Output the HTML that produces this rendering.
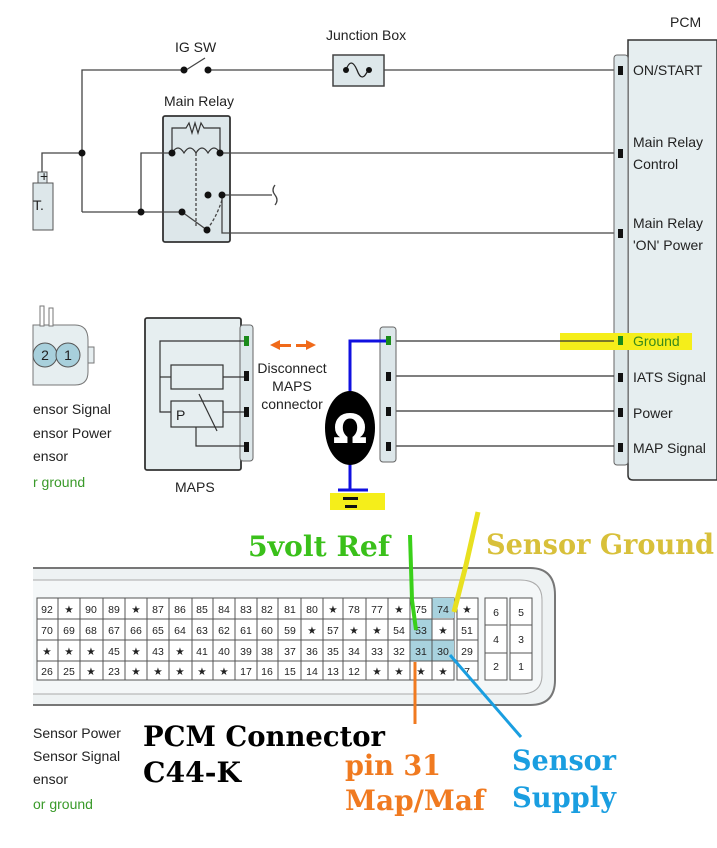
<!DOCTYPE html>
<html><head><meta charset="utf-8"><style>
body{margin:0;background:#fff}
svg{display:block}
.t{font-family:"Liberation Sans",sans-serif;font-size:14px;fill:#222}
.n{font-family:"Liberation Sans",sans-serif;font-size:10.5px;fill:#222;text-anchor:middle}
.b{font-family:"DejaVu Serif","Liberation Serif",serif;font-weight:bold;font-size:28px}
</style></head><body>
<svg width="717" height="848" viewBox="0 0 717 848" xmlns="http://www.w3.org/2000/svg">
<!-- relay box first -->
<rect x="163" y="116" width="67" height="126" rx="2" fill="#dde7ea" stroke="#333" stroke-width="1.8"/>
<g stroke="#444" stroke-width="1.3" fill="none">
<polyline points="82,212 82,70 184,70"/>
<line x1="208" y1="70" x2="614" y2="70"/>
<line x1="186" y1="70" x2="205" y2="58"/>
<polyline points="42,172 42,153 82,153"/>
<line x1="82" y1="212" x2="182" y2="212"/>
<polyline points="141,212 141,153 172,153"/>
<line x1="220" y1="153" x2="614" y2="153"/>
<line x1="182" y1="212" x2="207" y2="230"/>
<line x1="222" y1="195" x2="272" y2="195"/>
<polyline points="222,195 222,233 614,233"/>
<line x1="196" y1="153" x2="196" y2="228" stroke-dasharray="3,2"/>
<path d="M222,200 Q216,218 208,228" stroke-dasharray="3,2"/>
<path d="M275,185 q-4,5 0,10 q4,5 0,10"/>
</g>
<!-- battery -->
<rect x="33" y="183" width="20" height="47" fill="#dde7ea" stroke="#555"/>
<rect x="38" y="172" width="9" height="11" fill="#dde7ea" stroke="#555"/>
<text x="40" y="181" class="t" font-size="10">+</text>
<text x="33" y="210" class="t" font-size="15">T.</text>
<!-- IG SW -->
<text x="175" y="52" class="t">IG SW</text>
<circle cx="184" cy="70" r="3.5" fill="#111"/><circle cx="208" cy="70" r="3.5" fill="#111"/>
<!-- junction box -->
<text x="326" y="40" class="t">Junction Box</text>
<rect x="333" y="55" width="51" height="31" fill="#dde7ea" stroke="#444" stroke-width="1.5"/>
<path d="M346,70 q5,-14 11,0 q5,14 11,0" stroke="#222" fill="none" stroke-width="1.3"/>
<circle cx="346" cy="70" r="3" fill="#111"/><circle cx="369" cy="70" r="3" fill="#111"/>
<!-- main relay -->
<text x="164" y="106" class="t">Main Relay</text>
<g stroke="#333" fill="none" stroke-width="1.2">
<polyline points="172,153 172,128 186,128 189,123 192,133 195,123 198,133 201,123 204,128 220,128 220,153"/>
<path d="M172,153 q6,-10 12,0 q6,-10 12,0 q6,-10 12,0 q6,-10 12,0"/>
</g>
<g fill="#111">
<circle cx="82" cy="153" r="3.5"/><circle cx="141" cy="212" r="3.5"/>
<circle cx="172" cy="153" r="3.5"/><circle cx="220" cy="153" r="3.5"/>
<circle cx="208" cy="195" r="3.5"/><circle cx="222" cy="195" r="3.5"/>
<circle cx="182" cy="212" r="3.5"/><circle cx="207" cy="230" r="3.5"/>
</g>
<!-- PCM -->
<text x="670" y="27" class="t">PCM</text>
<path d="M628,40 L717,40 L717,480 L633,480 Q628,480 628,475 Z" fill="#e6eef0" stroke="#333" stroke-width="1.5"/>
<rect x="614" y="55" width="14" height="410" rx="3" fill="#dde7ea" stroke="#666"/>
<g fill="#111">
<rect x="618" y="66" width="5" height="9"/><rect x="618" y="149" width="5" height="9"/><rect x="618" y="229" width="5" height="9"/>
<rect x="618" y="373" width="5" height="9"/><rect x="618" y="408" width="5" height="9"/><rect x="618" y="443" width="5" height="9"/>
</g>
<rect x="560" y="333" width="132" height="17" fill="#f5ee1a"/>
<rect x="618" y="336" width="5" height="9" fill="#1a8a1a"/>
<text x="633" y="75" class="t">ON/START</text>
<text x="633" y="147" class="t">Main Relay</text>
<text x="633" y="169" class="t">Control</text>
<text x="633" y="228" class="t">Main Relay</text>
<text x="633" y="250" class="t">'ON' Power</text>
<text x="633" y="346" class="t" style="fill:#3a8a1a">Ground</text>
<text x="633" y="382" class="t">IATS Signal</text>
<text x="633" y="418" class="t">Power</text>
<text x="633" y="453" class="t">MAP Signal</text>
<g stroke="#333" stroke-width="1.2">
<line x1="396" y1="341" x2="614" y2="341"/><line x1="396" y1="376" x2="614" y2="376"/>
<line x1="396" y1="411" x2="614" y2="411"/><line x1="396" y1="446" x2="614" y2="446"/>
</g>
<rect x="380" y="327" width="16" height="135" rx="3" fill="#dde7ea" stroke="#666"/>
<rect x="386" y="336" width="5" height="9" fill="#1a8a1a"/>
<g fill="#111"><rect x="386" y="372" width="5" height="9"/><rect x="386" y="407" width="5" height="9"/><rect x="386" y="442" width="5" height="9"/></g>
<!-- ohm meter -->
<polyline points="350,392 350,341 386,341" stroke="#1010e0" stroke-width="3" fill="none"/>
<line x1="350" y1="462" x2="350" y2="490" stroke="#1010e0" stroke-width="3"/>
<line x1="338" y1="490" x2="368" y2="490" stroke="#1010e0" stroke-width="3"/>
<ellipse cx="350" cy="428" rx="25" ry="37" fill="#000"/>
<text x="350" y="443" text-anchor="middle" font-family="DejaVu Sans,sans-serif" font-size="40" font-weight="bold" fill="#fff">Ω</text>
<rect x="330" y="493" width="55" height="17" fill="#f5ee1a"/>
<rect x="343" y="497" width="15" height="3" fill="#111"/><rect x="345" y="505" width="12" height="3" fill="#111"/>
<!-- MAPS -->
<rect x="145" y="318" width="96" height="152" rx="2" fill="#e6eef0" stroke="#333" stroke-width="1.8"/>
<rect x="240" y="325" width="13" height="136" rx="3" fill="#dde7ea" stroke="#666"/>
<rect x="244" y="336" width="5" height="10" fill="#1a8a1a"/>
<g fill="#111"><rect x="244" y="371" width="5" height="10"/><rect x="244" y="407" width="5" height="10"/><rect x="244" y="442" width="5" height="10"/></g>
<g stroke="#333" fill="none" stroke-width="1.2">
<polyline points="244,341 160,341 160,412 171,412"/>
<line x1="160" y1="377" x2="171" y2="377"/>
<rect x="171" y="365" width="52" height="24"/>
<rect x="171" y="401" width="52" height="26"/>
<line x1="223" y1="377" x2="244" y2="377"/><line x1="223" y1="412" x2="244" y2="412"/>
<polyline points="196,427 196,446 244,446"/>
<line x1="199" y1="394" x2="217" y2="431"/>
</g>
<text x="176" y="420" class="t" font-size="15">P</text>
<text x="175" y="492" class="t">MAPS</text>
<g fill="#f06a1a"><polygon points="270,345 280,340 280,350"/><rect x="279" y="344" width="12" height="3"/>
<rect x="296" y="344" width="12" height="3"/><polygon points="316,345 306,340 306,350"/></g>
<text x="292" y="373" class="t" text-anchor="middle">Disconnect</text>
<text x="292" y="391" class="t" text-anchor="middle">MAPS</text>
<text x="292" y="409" class="t" text-anchor="middle">connector</text>
<!-- left partial connector -->
<path d="M33,325 L75,325 Q88,325 88,340 L88,372 Q88,385 75,385 L33,385 Z" fill="#e6eef0" stroke="#777"/>
<rect x="88" y="347" width="6" height="16" fill="#e6eef0" stroke="#777"/>
<rect x="40" y="306" width="4" height="20" fill="#fff" stroke="#777"/><rect x="49" y="308" width="4" height="18" fill="#fff" stroke="#777"/>
<circle cx="45" cy="355" r="12" fill="#a8d0dc" stroke="#555"/><circle cx="68" cy="355" r="12" fill="#a8d0dc" stroke="#555"/>
<text x="45" y="360" class="t" text-anchor="middle">2</text><text x="68" y="360" class="t" text-anchor="middle">1</text>
<text x="33" y="414" class="t">ensor Signal</text>
<text x="33" y="438" class="t">ensor Power</text>
<text x="33" y="461" class="t">ensor</text>
<text x="33" y="487" class="t" style="fill:#3a9a2a">r ground</text>
<!-- bottom connector -->
<path d="M33,568 L530,568 Q555,568 555,595 L555,680 Q555,705 530,705 L33,705" fill="#eef2f3" stroke="#777" stroke-width="2"/>
<path d="M33,580 L520,580 Q542,580 542,600 L542,675 Q542,694 520,694 L33,694" fill="#f4f7f8" stroke="#aaa"/>
<rect x="37" y="598" width="417" height="82" fill="#fff" stroke="#555"/>
<rect x="432" y="598" width="22" height="20" fill="#a8d2de"/>
<rect x="410" y="619" width="22" height="21" fill="#a8d2de"/>
<rect x="410" y="640" width="44" height="21" fill="#a8d2de"/>
<g stroke="#555" stroke-width="1">
<line x1="37" y1="619" x2="454" y2="619"/><line x1="37" y1="640" x2="454" y2="640"/><line x1="37" y1="661" x2="454" y2="661"/>
<line x1="58" y1="598" x2="58" y2="680"/><line x1="80" y1="598" x2="80" y2="680"/><line x1="103" y1="598" x2="103" y2="680"/>
<line x1="125" y1="598" x2="125" y2="680"/><line x1="147" y1="598" x2="147" y2="680"/><line x1="169" y1="598" x2="169" y2="680"/>
<line x1="192" y1="598" x2="192" y2="680"/><line x1="213" y1="598" x2="213" y2="680"/><line x1="235" y1="598" x2="235" y2="680"/>
<line x1="257" y1="598" x2="257" y2="680"/><line x1="278" y1="598" x2="278" y2="680"/><line x1="301" y1="598" x2="301" y2="680"/>
<line x1="323" y1="598" x2="323" y2="680"/><line x1="343" y1="598" x2="343" y2="680"/><line x1="366" y1="598" x2="366" y2="680"/>
<line x1="388" y1="598" x2="388" y2="680"/><line x1="410" y1="598" x2="410" y2="680"/><line x1="432" y1="598" x2="432" y2="680"/>
</g>
<rect x="457" y="598" width="21" height="82" fill="#fff" stroke="#555"/>
<g stroke="#555"><line x1="457" y1="619" x2="478" y2="619"/><line x1="457" y1="640" x2="478" y2="640"/><line x1="457" y1="661" x2="478" y2="661"/></g>
<rect x="485" y="598" width="22" height="82" fill="#fff" stroke="#555"/>
<rect x="510" y="598" width="22" height="82" fill="#fff" stroke="#555"/>
<g stroke="#555"><line x1="485" y1="625" x2="507" y2="625"/><line x1="485" y1="653" x2="507" y2="653"/>
<line x1="510" y1="625" x2="532" y2="625"/><line x1="510" y1="653" x2="532" y2="653"/></g>
<g>
<text x="47" y="613" class="n">92</text><text x="69" y="613" class="n">★</text><text x="91" y="613" class="n">90</text><text x="114" y="613" class="n">89</text><text x="136" y="613" class="n">★</text><text x="158" y="613" class="n">87</text><text x="180" y="613" class="n">86</text><text x="202" y="613" class="n">85</text><text x="224" y="613" class="n">84</text><text x="246" y="613" class="n">83</text><text x="267" y="613" class="n">82</text><text x="290" y="613" class="n">81</text><text x="312" y="613" class="n">80</text><text x="333" y="613" class="n">★</text><text x="354" y="613" class="n">78</text><text x="377" y="613" class="n">77</text><text x="399" y="613" class="n">★</text><text x="421" y="613" class="n">75</text><text x="443" y="613" class="n">74</text><text x="467" y="613" class="n">★</text>
<text x="47" y="634" class="n">70</text><text x="69" y="634" class="n">69</text><text x="91" y="634" class="n">68</text><text x="114" y="634" class="n">67</text><text x="136" y="634" class="n">66</text><text x="158" y="634" class="n">65</text><text x="180" y="634" class="n">64</text><text x="202" y="634" class="n">63</text><text x="224" y="634" class="n">62</text><text x="246" y="634" class="n">61</text><text x="267" y="634" class="n">60</text><text x="290" y="634" class="n">59</text><text x="312" y="634" class="n">★</text><text x="333" y="634" class="n">57</text><text x="354" y="634" class="n">★</text><text x="377" y="634" class="n">★</text><text x="399" y="634" class="n">54</text><text x="421" y="634" class="n">53</text><text x="443" y="634" class="n">★</text><text x="467" y="634" class="n">51</text>
<text x="47" y="655" class="n">★</text><text x="69" y="655" class="n">★</text><text x="91" y="655" class="n">★</text><text x="114" y="655" class="n">45</text><text x="136" y="655" class="n">★</text><text x="158" y="655" class="n">43</text><text x="180" y="655" class="n">★</text><text x="202" y="655" class="n">41</text><text x="224" y="655" class="n">40</text><text x="246" y="655" class="n">39</text><text x="267" y="655" class="n">38</text><text x="290" y="655" class="n">37</text><text x="312" y="655" class="n">36</text><text x="333" y="655" class="n">35</text><text x="354" y="655" class="n">34</text><text x="377" y="655" class="n">33</text><text x="399" y="655" class="n">32</text><text x="421" y="655" class="n">31</text><text x="443" y="655" class="n">30</text><text x="467" y="655" class="n">29</text>
<text x="47" y="675" class="n">26</text><text x="69" y="675" class="n">25</text><text x="91" y="675" class="n">★</text><text x="114" y="675" class="n">23</text><text x="136" y="675" class="n">★</text><text x="158" y="675" class="n">★</text><text x="180" y="675" class="n">★</text><text x="202" y="675" class="n">★</text><text x="224" y="675" class="n">★</text><text x="246" y="675" class="n">17</text><text x="267" y="675" class="n">16</text><text x="290" y="675" class="n">15</text><text x="312" y="675" class="n">14</text><text x="333" y="675" class="n">13</text><text x="354" y="675" class="n">12</text><text x="377" y="675" class="n">★</text><text x="399" y="675" class="n">★</text><text x="421" y="675" class="n">★</text><text x="443" y="675" class="n">★</text><text x="467" y="675" class="n">7</text>
<text x="496" y="616" class="n">6</text><text x="521" y="616" class="n">5</text><text x="496" y="643" class="n">4</text><text x="521" y="643" class="n">3</text><text x="496" y="670" class="n">2</text><text x="521" y="670" class="n">1</text>
</g>
<polyline points="410,535 412,600 416,630" stroke="#3ad01a" stroke-width="4" fill="none"/>
<polyline points="478,512 466,565 454,612" stroke="#e8e020" stroke-width="5" fill="none"/>
<line x1="415" y1="662" x2="415" y2="724" stroke="#f07a20" stroke-width="3"/>
<line x1="450" y1="655" x2="521" y2="737" stroke="#1a9ee0" stroke-width="3"/>
<text x="248" y="556" class="b" fill="#3ac01a" textLength="142" lengthAdjust="spacingAndGlyphs">5volt Ref</text>
<text x="486" y="554" class="b" fill="#d8c03a" textLength="228" lengthAdjust="spacingAndGlyphs">Sensor Ground</text>
<text x="143" y="746" class="b" fill="#000" textLength="242" lengthAdjust="spacingAndGlyphs">PCM Connector</text>
<text x="143" y="782" class="b" fill="#000" textLength="98" lengthAdjust="spacingAndGlyphs">C44-K</text>
<text x="345" y="775" class="b" fill="#f07a20" textLength="96" lengthAdjust="spacingAndGlyphs">pin 31</text>
<text x="345" y="810" class="b" fill="#f07a20" textLength="140" lengthAdjust="spacingAndGlyphs">Map/Maf</text>
<text x="512" y="770" class="b" fill="#1a9ee0" textLength="104" lengthAdjust="spacingAndGlyphs">Sensor</text>
<text x="512" y="807" class="b" fill="#1a9ee0" textLength="104" lengthAdjust="spacingAndGlyphs">Supply</text>
<text x="33" y="738" class="t">Sensor Power</text>
<text x="33" y="761" class="t">Sensor Signal</text>
<text x="33" y="784" class="t">ensor</text>
<text x="33" y="809" class="t" style="fill:#3a9a2a">or ground</text>
</svg>
</body></html>
